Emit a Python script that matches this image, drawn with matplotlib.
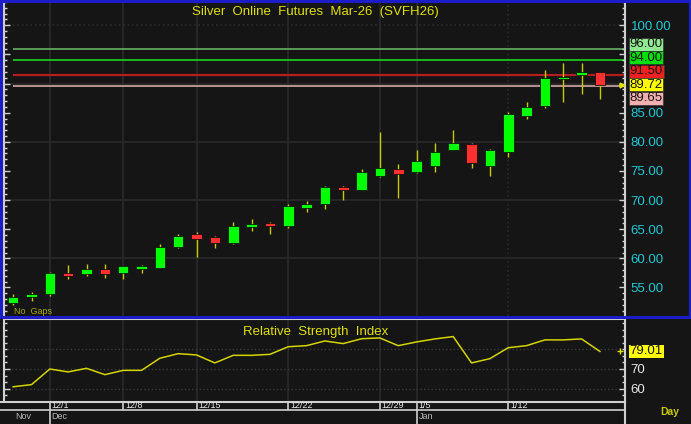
import matplotlib
matplotlib.use('Agg')
import matplotlib.pyplot as plt
from matplotlib import font_manager
from matplotlib.patches import Rectangle
from matplotlib.ticker import MultipleLocator, FixedLocator, FuncFormatter
from matplotlib.transforms import blended_transform_factory
import numpy as np

names = {f.name for f in font_manager.fontManager.ttflist}
if 'Liberation Sans Narrow' in names:
    FONT, FS = 'Liberation Sans Narrow', 11.5
else:
    FONT, FS = 'Liberation Sans', 9.5
plt.rcParams['font.family'] = [FONT, 'DejaVu Sans']

# daily OHLC (one bar per session)
opens  = [52.4, 53.5, 53.8, 57.5, 57.3, 58.2, 57.4, 58.4, 58.4, 61.9, 64.2,
          63.7, 62.65, 65.55, 65.8, 65.6, 68.7, 69.35, 72.0, 71.8, 74.05,
          75.4, 74.75, 75.9, 78.6, 79.7, 75.9, 78.25, 84.4, 86.2, 90.7,
          91.6, 91.9]
highs  = [53.9, 54.3, 57.7, 58.9, 59.1, 59.1, 58.7, 58.8, 62.4, 64.25, 64.6,
          63.9, 66.3, 66.7, 66.3, 69.25, 69.9, 72.4, 72.5, 75.3, 81.6,
          76.25, 78.6, 79.75, 82.0, 79.75, 78.7, 85.2, 86.75, 92.25, 93.5,
          93.5, 91.95]
lows   = [52.0, 52.7, 53.5, 56.5, 57.0, 56.6, 56.4, 57.4, 58.3, 61.7, 60.25,
          61.85, 62.4, 64.7, 64.2, 65.2, 67.9, 68.55, 70.05, 71.75, 73.9,
          70.35, 74.7, 74.9, 78.55, 75.55, 74.1, 77.45, 83.9, 85.8, 86.85,
          88.25, 87.35]
closes = [53.4, 53.7, 57.4, 56.9, 58.2, 57.3, 58.6, 58.5, 61.9, 63.85, 63.4,
          62.6, 65.5, 65.65, 65.7, 68.9, 69.4, 72.2, 71.9, 74.9, 75.55,
          74.45, 76.7, 78.2, 79.85, 76.4, 78.55, 84.7, 86.05, 90.9, 91.2,
          91.75, 89.72]
rsi = [60.9, 62.0, 70.0, 68.5, 70.35, 67.1, 69.3, 69.3, 75.5, 77.85, 77.2,
       73.1, 77.0, 77.0, 77.5, 81.4, 81.95, 84.35, 83.0, 85.5, 85.9, 81.95,
       83.85, 85.4, 86.6, 73.1, 75.3, 80.9, 81.95, 84.9, 84.9, 85.4, 79.01]

level_values = [96.00, 94.00, 91.50, 89.65]
level_colors = ['#6fbf6f', '#1ee61e', '#b41e1e', '#e6b4b4']
last_price = 89.72
last_rsi = 79.01
tag_values = [96.00, 94.00, 91.50, 89.72, 89.65]
tag_colors = ['#90e890', '#00e000', '#f02020', '#ffff00', '#f4b0b0']

week_idx = [2, 6, 10, 15, 20, 22, 27]
week_labels = ['12/1', '12/8', '12/15', '12/22', '12/29', '1/5', '1/12']
month_idx = [0, 2, 22]
month_labels = ['Nov', 'Dec', 'Jan']

BG = '#151515'
GRID = '#2a2a2a'
SPINE = '#d0d0d0'
YEL = '#e0e000'
W, H = 691, 424

fig = plt.figure(figsize=(W / 100, H / 100), dpi=100, facecolor=BG)

def px_axes(x0, y0, x1, y1):
    # pixel box (top-left origin) -> axes
    a = fig.add_axes([x0 / W, 1 - y1 / H, (x1 - x0) / W, (y1 - y0) / H])
    a.set_facecolor(BG)
    return a

ax = px_axes(4, 2, 625, 316)
ax_rsi = px_axes(4, 319, 625, 402)
ax_band = px_axes(0, 402, 625, 424)

x = np.arange(len(closes))
xmin, xmax = -0.5, 33.37
unit_px = 621 / (xmax - xmin)

# ---- price panel
ax.set_xlim(xmin, xmax)
ax.set_ylim(50.1, 104.0)
for w in week_idx:
    ax.axvline(w, color=GRID, lw=1.2, ls=':' if w == week_idx[-1] else '-', zorder=0)
for g in range(60, 101, 10):
    ax.axhline(g, color=GRID, lw=1.2, ls=':' if g == 100 else '-', zorder=0)

for lv, c in zip(level_values, level_colors):
    ax.hlines(lv, 0, xmax, colors=c, lw=1.6 if lv == 91.5 else 1.1, zorder=1)

o = np.array(opens); c_ = np.array(closes)
up = c_ >= o
body_lo = np.minimum(o, c_)
body_h = np.abs(c_ - o)
min_h = 0.5
body_lo = np.where(body_h < min_h, (o + c_) / 2 - min_h / 2, body_lo)
body_h = np.maximum(body_h, min_h)
ax.vlines(x, lows, highs, color='#c8c800', lw=1.0, zorder=2)
ax.bar(x, body_h, bottom=body_lo, width=0.58,
       color=np.where(up, '#00ff00', '#ff3030'), edgecolor='#050505',
       linewidth=0.5, zorder=3)
ax.plot([xmax - 0.18], [last_price], marker='>', ms=3.5, color=YEL,
        clip_on=False, zorder=4)

ax.text(0.502, 1 - 10 / 314, 'Silver  Online  Futures  Mar-26  (SVFH26)',
        transform=ax.transAxes, ha='center', va='center', color=YEL, fontsize=FS)
ax.text(10 / 621, 4 / 314, 'No  Gaps', transform=ax.transAxes, ha='left',
        va='center', color='#a8a800', fontsize=6.5)

# stacked value tags on the right
lvl_disp = [ax.transData.transform((0, v))[1] for v in tag_values]
pos = []
for d in lvl_disp:
    pos.append(d if not pos else min(d, pos[-1] - 13.5))
pos = [p + 4.4 for p in pos]
blend = blended_transform_factory(ax.transAxes, ax.transData)
for v, col, d, p in zip(tag_values, tag_colors, lvl_disp, pos):
    ax.annotate(f'{v:.2f}', xy=(1, v), xycoords=blend,
                xytext=(4.6 * 0.72, (p - d) * 0.72), textcoords='offset points',
                ha='left', va='center', color='#151515', fontsize=FS,
                bbox=dict(boxstyle='square,pad=0.05', fc=col, ec='#303030', lw=0.5),
                annotation_clip=False)

def hide_near(val, _):
    d = ax.transData.transform((0, val))[1]
    if any(abs(d - p) < 12 for p in pos):
        return ''
    return f'{val:.2f}'

ax.yaxis.tick_right()
ax.yaxis.set_major_locator(MultipleLocator(5))
ax.yaxis.set_minor_locator(MultipleLocator(1))
ax.yaxis.set_major_formatter(FuncFormatter(hide_near))
ax.tick_params(axis='y', which='both', direction='in', left=True, right=True,
               colors=SPINE, labelcolor='#1ec8d2', labelsize=FS, pad=4)
ax.tick_params(axis='y', which='major', length=4, width=1)
ax.tick_params(axis='y', which='minor', length=2.5, width=1)
ax.set_xticks([])
for s in ['top', 'bottom']:
    ax.spines[s].set_visible(False)
for s in ['left', 'right']:
    ax.spines[s].set_color(SPINE)
    ax.spines[s].set_linewidth(1.5)

# ---- RSI panel
ax_rsi.set_xlim(xmin, xmax)
ax_rsi.set_ylim(53.1, 95.6)
for w in week_idx:
    ax_rsi.axvline(w, color=GRID, lw=1.2, zorder=0)
for g in [60, 70, 80]:
    ax_rsi.axhline(g, color='#3a3a3a', lw=1.0, ls=':', zorder=0)
ax_rsi.plot(x, rsi, color='#d4d400', lw=1.1, zorder=2)
ax_rsi.plot([xmax - 0.25], [last_rsi], marker='+', ms=4, mew=1, color=YEL,
            clip_on=False, zorder=3)
ax_rsi.text(0.502, 1 - 13 / 83, 'Relative  Strength  Index', transform=ax_rsi.transAxes,
            ha='center', va='center', color=YEL, fontsize=FS)
rblend = blended_transform_factory(ax_rsi.transAxes, ax_rsi.transData)
ax_rsi.annotate(f'{last_rsi:.2f}', xy=(1, last_rsi), xycoords=rblend,
                xytext=(4.6 * 0.72, 0), textcoords='offset points', ha='left',
                va='center', color='#151515', fontsize=FS,
                bbox=dict(boxstyle='square,pad=0.05', fc='#ffff00', ec='none'),
                annotation_clip=False)
ax_rsi.yaxis.tick_right()
ax_rsi.yaxis.set_major_locator(FixedLocator([60, 70]))
ax_rsi.yaxis.set_minor_locator(MultipleLocator(10 / 3))
ax_rsi.tick_params(axis='y', which='both', direction='in', left=True, right=True,
                   colors=SPINE, labelcolor='#e8e8e8', labelsize=FS, pad=4)
ax_rsi.tick_params(axis='y', which='major', length=4, width=1)
ax_rsi.tick_params(axis='y', which='minor', length=2.5, width=1)
ax_rsi.set_xticks([])
ax_rsi.spines['bottom'].set_visible(False)
for s in ['left', 'right', 'top']:
    ax_rsi.spines[s].set_color(SPINE)
    ax_rsi.spines[s].set_linewidth(1.5)

# ---- date band
ax_band.set_xlim(xmin - 4 / unit_px, xmax)
ax_band.set_ylim(0, 22)
ax_band.axhline(14, color=SPINE, lw=1.2)
ax_band.vlines(week_idx, 14, 22, color=SPINE, lw=1.2)
for w, lab in zip(week_idx, week_labels):
    ax_band.text(w + 0.1, 18, lab, ha='left', va='center', color='#e8e8e8', fontsize=6.5)
ax_band.vlines([m for m in month_idx if m > 0], 0, 14, color=SPINE, lw=1.2)
for m, lab in zip(month_idx, month_labels):
    ax_band.text(m + 0.1, 7.5, lab, ha='left', va='center', color='#b8b8b8', fontsize=6.5)
ax_band.set_xticks([]); ax_band.set_yticks([])
for s in ['left', 'bottom']:
    ax_band.spines[s].set_visible(False)
for s in ['top', 'right']:
    ax_band.spines[s].set_color(SPINE)
    ax_band.spines[s].set_linewidth(1.5)

fig.text(670 / W, 1 - 412 / H, 'Day', ha='center', va='center', color='#c8c800',
         fontsize=7.5, fontweight='bold')

# blue frame around the price panel
fig.patches.append(Rectangle((1.2 / W, 1 - 317 / H), (W - 2.4) / W, (317 - 1.2) / H,
                             transform=fig.transFigure, fill=False,
                             edgecolor='#1c1cc8', lw=2.2, zorder=5))

fig.savefig('out.png', dpi=100, facecolor=BG)
